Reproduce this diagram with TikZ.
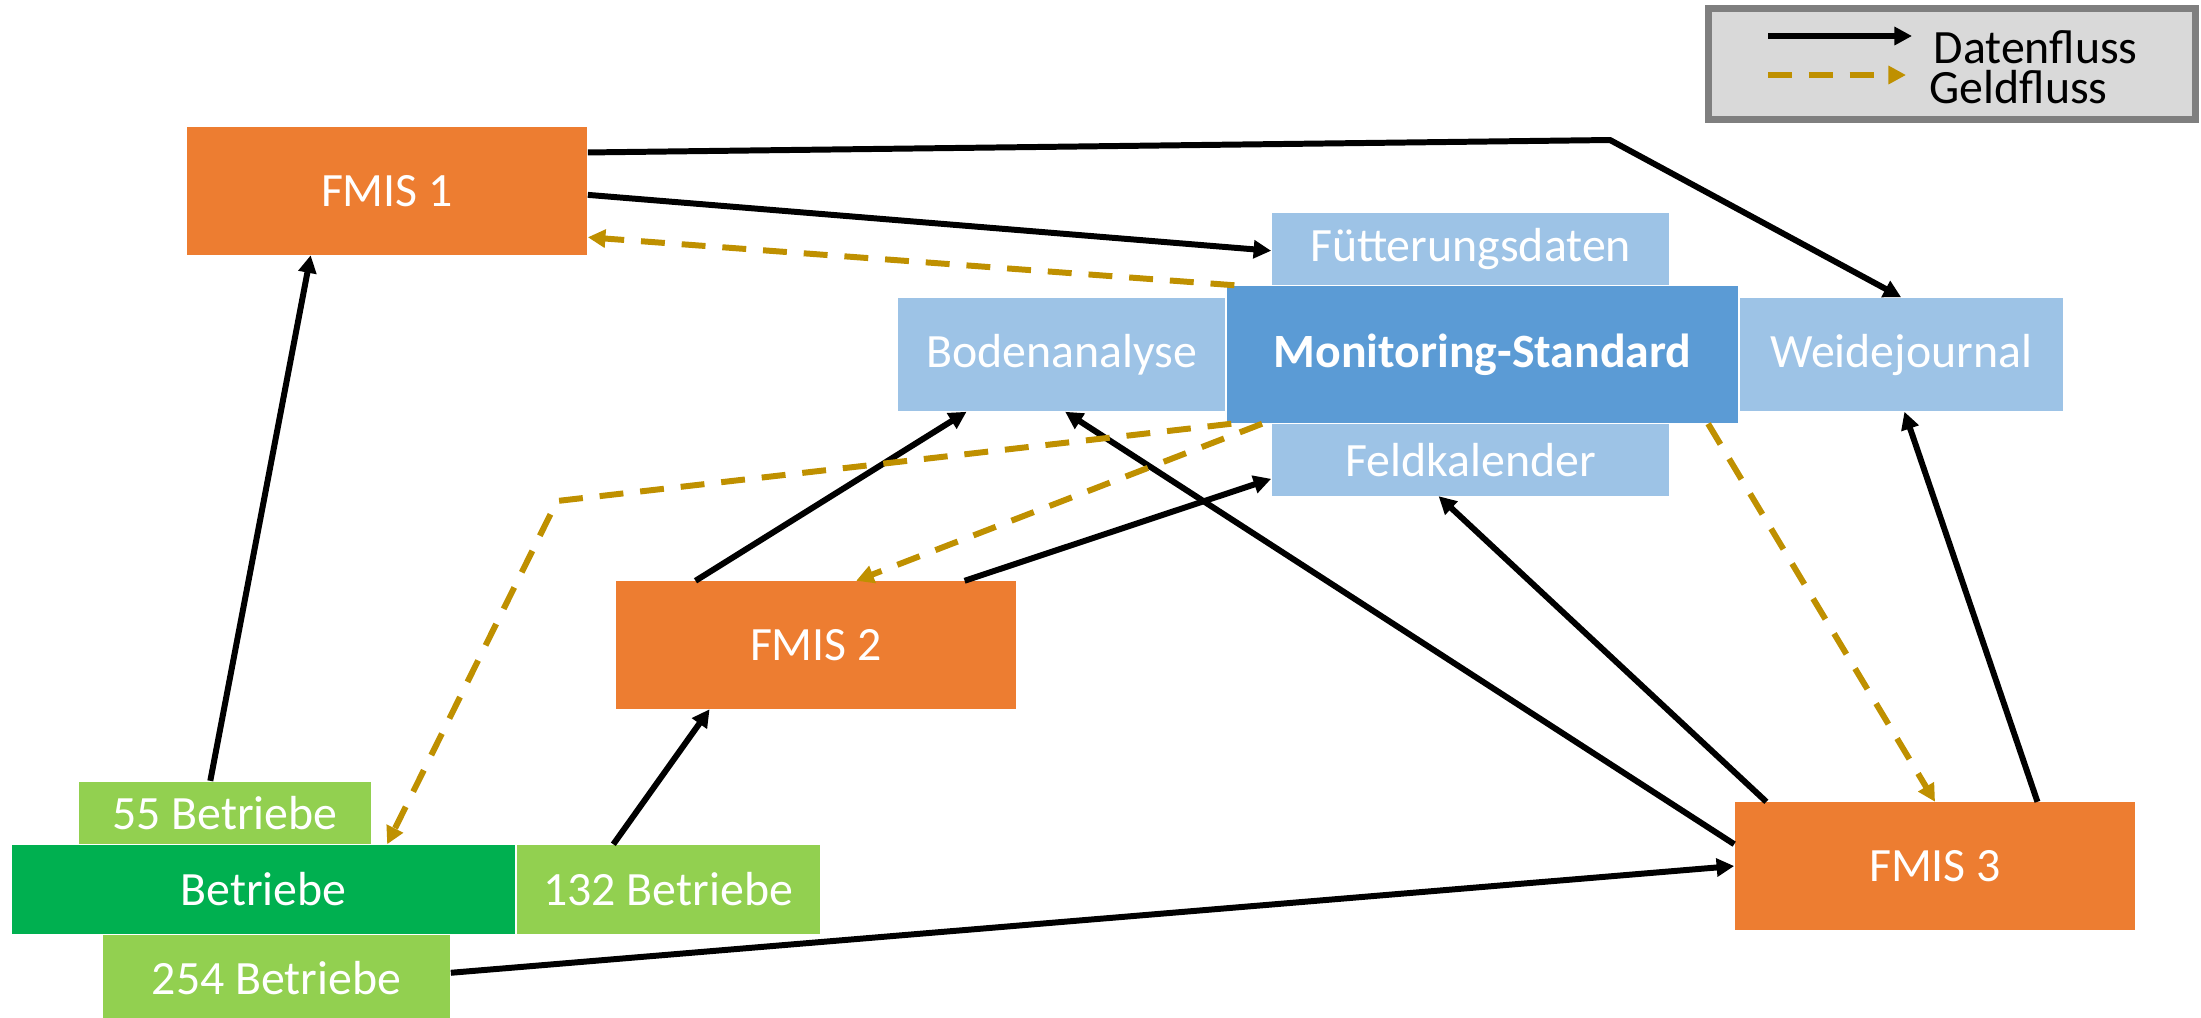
\documentclass[tikz,border=0pt]{standalone}
\usepackage{fontspec}
\setmainfont{Carlito}
\usepackage{tikz}
\usetikzlibrary{positioning,calc,arrows.meta}

\definecolor{fmisorange}{HTML}{ED7D31}
\definecolor{msblue}{HTML}{5B9BD5}
\definecolor{datblue}{HTML}{9DC3E6}
\definecolor{betgreen}{HTML}{00B050}
\definecolor{numgreen}{HTML}{92D050}
\definecolor{geldgold}{HTML}{BF9000}
\definecolor{legfill}{HTML}{D9D9D9}
\definecolor{legdraw}{HTML}{7F7F7F}

\begin{document}
\begin{tikzpicture}[x=0.01cm, y=-0.01cm, node distance=0pt, >={Triangle[length=5pt, width=5pt]}, box/.style={rectangle, inner sep=0pt, text=white, font=\fontsize{13.6}{15}\selectfont}, fmis/.style={box, fill=fmisorange, minimum width=4cm, minimum height=1.27cm}, datbox/.style={box, fill=datblue}, numbox/.style={box, fill=numgreen}, datenfluss/.style={->, line width=1.7pt, black}, geldfluss/.style={->, line width=1.7pt, geldgold, dash pattern=on 6.8pt off 4.8pt}]

\useasboundingbox (0,0) rectangle (2201,1017);

\node[fmis] (f1) at (387,191) {FMIS 1};
\node[fmis] (f2) at (816,645) {FMIS 2};
\node[fmis] (f3) at (1935,866) {FMIS 3};

\node[box, fill=msblue, minimum width=5.11cm, minimum height=1.37cm, font=\fontsize{13.6}{15}\selectfont\bfseries] (ms) at (1482.5,354.5) {Monitoring-Standard};
\node[datbox, minimum width=3.97cm, minimum height=0.72cm] (fd) [above=of ms, xshift=-0.12cm] {Fütterungsdaten};
\node[datbox, minimum width=3.97cm, minimum height=0.71cm] (fk) [below=of ms, xshift=-0.12cm] {Feldkalender};
\node[datbox, minimum width=3.27cm, minimum height=1.13cm] (ba) [left=of ms] {Bodenanalyse};
\node[datbox, minimum width=3.23cm, minimum height=1.13cm] (wj) [right=of ms] {Weidejournal};

\node[box, fill=betgreen, minimum width=5.03cm, minimum height=0.89cm] (bt) at (263.5,889.5) {Betriebe};
\node[numbox, minimum width=3.03cm, minimum height=0.89cm] (b132) [right=of bt] {132 Betriebe};
\node[numbox, minimum width=2.92cm, minimum height=0.62cm] (b55) [above right=0pt and 0.67cm of bt.north west] {55 Betriebe};
\node[numbox, minimum width=3.47cm, minimum height=0.85cm] (b254) [below right=0pt and 0.91cm of bt.south west] {254 Betriebe};

% Legende
\node[rectangle, fill=legfill, draw=legdraw, line width=2pt, minimum width=4.87cm, minimum height=1.11cm] (leg) at (1952,64) {};
\node[anchor=base west, inner sep=0pt, font=\fontsize{13.6}{15}\selectfont] (ldat) at (1933,63) {Datenfluss};
\node[anchor=base west, inner sep=0pt, font=\fontsize{13.6}{15}\selectfont] (lgeld) at (1929,103) {Geldfluss};
\coordinate (ldatA) at (1768,36);
\coordinate (ldatB) at (1912,36);
\coordinate (lgeldA) at (1768,75);
\coordinate (lgeldB) at (1906,75);
\draw[datenfluss] (ldatA) -- (ldatB);
\draw[geldfluss] (lgeldA) -- (lgeldB);

% Datenfluss
\coordinate (knickA) at (1610,140);
\draw[datenfluss] ($(f1.north east)!0.2!(f1.south east)$) -- (knickA) -- (wj.north);
\path
    ($(f1.north east)!0.53!(f1.south east)$) edge[datenfluss] ($(fd.north west)!0.53!(fd.south west)$)
    ($(b55.north west)!0.45!(b55.north east)$) edge[datenfluss] ($(f1.south west)!0.31!(f1.south east)$)
    ($(f2.north west)!0.2!(f2.north east)$) edge[datenfluss] ($(ba.south west)!0.21!(ba.south east)$)
    ($(f2.north west)!0.87!(f2.north east)$) edge[datenfluss] ($(fk.north west)!0.76!(fk.south west)$)
    ($(b132.north west)!0.32!(b132.north east)$) edge[datenfluss] ($(f2.south west)!0.235!(f2.south east)$)
    ($(b254.north east)!0.44!(b254.south east)$) edge[datenfluss] (f3.west)
    ($(f3.north west)!0.33!(f3.south west)$) edge[datenfluss] ($(ba.south west)!0.51!(ba.south east)$)
    ($(f3.north west)!0.08!(f3.north east)$) edge[datenfluss] ($(fk.south west)!0.42!(fk.south east)$)
    ($(f3.north west)!0.755!(f3.north east)$) edge[datenfluss] ($(wj.south west)!0.51!(wj.south east)$);

% Geldfluss
\coordinate (knickB) at (557,501);
\draw[geldfluss] ($(ms.south west)!0.01!(ms.south east)$) -- (knickB) -- ($(bt.north west)!0.745!(bt.north east)$);
\path
    ($(ms.north west)!0.016!(ms.north east)$) edge[geldfluss] ($(f1.north east)!0.86!(f1.south east)$)
    ($(ms.south west)!0.07!(ms.south east)$) edge[geldfluss] ($(f2.north west)!0.6!(f2.north east)$)
    ($(ms.south west)!0.94!(ms.south east)$) edge[geldfluss] (f3.north);
\end{tikzpicture}
\end{document}
